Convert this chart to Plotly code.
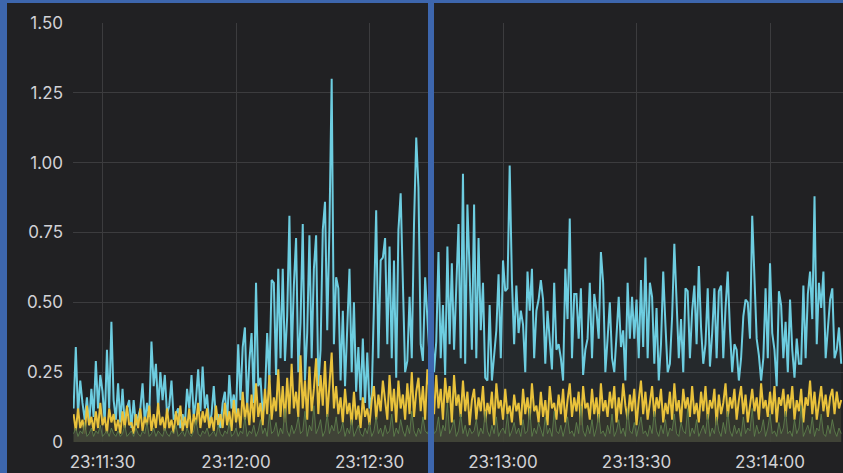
import pandas as pd
import plotly.graph_objects as go

# ---- data (sampled every 0.5 s starting 23:11:23.5) ----
start_time = "2024-01-01 23:11:23.5"
step = "500ms"

series_cyan = [
    0.12, 0.34, 0.1, 0.22, 0.14, 0.08, 0.16, 0.06, 0.19, 0.09, 0.29, 0.12, 0.24, 0.18, 0.07, 0.33, 0.12, 0.43, 0.15, 0.08,
    0.21, 0.07, 0.19, 0.06, 0.12, 0.15, 0.05, 0.15, 0.06, 0.09, 0.12, 0.21, 0.07, 0.14, 0.09, 0.36, 0.2, 0.28, 0.12, 0.25,
    0.15, 0.24, 0.1, 0.13, 0.22, 0.08, 0.1, 0.12, 0.05, 0.1, 0.06, 0.19, 0.12, 0.24, 0.09, 0.15, 0.26, 0.11, 0.27, 0.12,
    0.17, 0.06, 0.1, 0.2, 0.08, 0.1, 0.05, 0.14, 0.18, 0.07, 0.24, 0.12, 0.17, 0.1, 0.35, 0.15, 0.34, 0.41, 0.12, 0.29,
    0.39, 0.14, 0.57, 0.2, 0.23, 0.1, 0.16, 0.39, 0.22, 0.58, 0.57, 0.24, 0.62, 0.3, 0.62, 0.29, 0.45, 0.81, 0.3, 0.56,
    0.73, 0.25, 0.43, 0.78, 0.22, 0.39, 0.74, 0.3, 0.62, 0.74, 0.2, 0.33, 0.76, 0.86, 0.4, 0.77, 1.3, 0.35, 0.59, 0.55,
    0.22, 0.47, 0.2, 0.43, 0.62, 0.25, 0.5, 0.18, 0.34, 0.15, 0.37, 0.14, 0.32, 0.12, 0.17, 0.49, 0.83, 0.3, 0.65, 0.66,
    0.73, 0.35, 0.7, 0.3, 0.65, 0.23, 0.76, 0.89, 0.54, 0.25, 0.29, 0.52, 0.3, 0.78, 1.09, 0.91, 0.35, 0.29, 0.59, 0.44,
    0.3, 0.45, 0.25, 0.36, 0.68, 0.3, 0.49, 0.24, 0.7, 0.35, 0.64, 0.33, 0.59, 0.78, 0.3, 0.96, 0.28, 0.85, 0.61, 0.33,
    0.85, 0.3, 0.73, 0.4, 0.57, 0.23, 0.22, 0.49, 0.22, 0.3, 0.4, 0.6, 0.3, 0.65, 0.54, 0.55, 0.99, 0.58, 0.35, 0.56,
    0.39, 0.47, 0.42, 0.25, 0.61, 0.47, 0.62, 0.3, 0.47, 0.51, 0.58, 0.51, 0.28, 0.47, 0.37, 0.26, 0.57, 0.33, 0.35, 0.3,
    0.22, 0.62, 0.44, 0.8, 0.3, 0.53, 0.53, 0.37, 0.55, 0.24, 0.33, 0.37, 0.57, 0.3, 0.53, 0.47, 0.37, 0.68, 0.57, 0.25,
    0.37, 0.5, 0.3, 0.25, 0.38, 0.52, 0.34, 0.4, 0.22, 0.57, 0.37, 0.52, 0.37, 0.51, 0.3, 0.58, 0.34, 0.66, 0.3, 0.57,
    0.52, 0.28, 0.48, 0.22, 0.35, 0.61, 0.42, 0.25, 0.28, 0.45, 0.71, 0.51, 0.3, 0.44, 0.25, 0.55, 0.54, 0.3, 0.47, 0.56,
    0.35, 0.63, 0.41, 0.28, 0.35, 0.55, 0.27, 0.39, 0.55, 0.3, 0.54, 0.56, 0.3, 0.48, 0.61, 0.4, 0.25, 0.35, 0.33, 0.22,
    0.3, 0.45, 0.51, 0.5, 0.37, 0.81, 0.56, 0.37, 0.31, 0.22, 0.3, 0.55, 0.3, 0.64, 0.39, 0.33, 0.2, 0.54, 0.49, 0.3,
    0.43, 0.25, 0.51, 0.33, 0.23, 0.37, 0.28, 0.28, 0.56, 0.3, 0.53, 0.61, 0.44, 0.88, 0.35, 0.57, 0.48, 0.61, 0.3, 0.41,
    0.51, 0.55, 0.3, 0.33, 0.41, 0.28,
]

series_yellow = [
    0.1, 0.04, 0.12, 0.05, 0.08, 0.03, 0.13, 0.06, 0.09, 0.04, 0.11, 0.05, 0.14, 0.06, 0.09, 0.03, 0.12, 0.07, 0.1, 0.04,
    0.08, 0.03, 0.11, 0.05, 0.13, 0.06, 0.07, 0.03, 0.1, 0.05, 0.12, 0.04, 0.09, 0.06, 0.13, 0.04, 0.1, 0.05, 0.14, 0.06,
    0.09, 0.04, 0.12, 0.05, 0.08, 0.03, 0.11, 0.06, 0.13, 0.04, 0.09, 0.05, 0.12, 0.03, 0.1, 0.06, 0.14, 0.05, 0.11, 0.07,
    0.12, 0.05, 0.09, 0.04, 0.13, 0.06, 0.1, 0.05, 0.14, 0.06, 0.11, 0.04, 0.15, 0.07, 0.12, 0.05, 0.18, 0.08, 0.14, 0.06,
    0.17, 0.07, 0.21, 0.09, 0.14, 0.06, 0.19, 0.1, 0.24, 0.08, 0.16, 0.11, 0.26, 0.09, 0.2, 0.07, 0.23, 0.1, 0.28, 0.12,
    0.18, 0.09, 0.31, 0.12, 0.22, 0.08, 0.27, 0.11, 0.19, 0.3, 0.1, 0.24, 0.13, 0.29, 0.09, 0.21, 0.32, 0.12, 0.2, 0.1,
    0.16, 0.07, 0.19, 0.1, 0.14, 0.06, 0.18, 0.08, 0.13, 0.05, 0.16, 0.09, 0.12, 0.06, 0.15, 0.2, 0.08, 0.17, 0.11, 0.22,
    0.14, 0.08, 0.24, 0.11, 0.19, 0.07, 0.22, 0.12, 0.17, 0.08, 0.21, 0.1, 0.25, 0.09, 0.18, 0.23, 0.11, 0.2, 0.08, 0.26,
    0.18, 0.22, 0.1, 0.24, 0.12, 0.19, 0.08, 0.23, 0.14, 0.2, 0.07, 0.24, 0.13, 0.17, 0.09, 0.22, 0.11, 0.18, 0.06, 0.15,
    0.19, 0.08, 0.16, 0.11, 0.2, 0.07, 0.14, 0.1, 0.18, 0.06, 0.21, 0.12, 0.15, 0.08, 0.19, 0.1, 0.13, 0.07, 0.17, 0.11,
    0.14, 0.06, 0.19, 0.1, 0.16, 0.08, 0.21, 0.11, 0.13, 0.07, 0.18, 0.09, 0.15, 0.06, 0.2, 0.12, 0.14, 0.08, 0.17, 0.1,
    0.19, 0.07, 0.15, 0.21, 0.09, 0.16, 0.11, 0.18, 0.06, 0.2, 0.12, 0.14, 0.08, 0.19, 0.1, 0.16, 0.07, 0.21, 0.11, 0.15,
    0.09, 0.18, 0.12, 0.2, 0.07, 0.16, 0.1, 0.21, 0.13, 0.08, 0.17, 0.11, 0.19, 0.06, 0.15, 0.22, 0.1, 0.18, 0.08, 0.14,
    0.2, 0.09, 0.16, 0.12, 0.19, 0.07, 0.14, 0.1, 0.18, 0.08, 0.21, 0.11, 0.15, 0.07, 0.19, 0.12, 0.16, 0.09, 0.2, 0.1,
    0.14, 0.07, 0.18, 0.11, 0.2, 0.08, 0.15, 0.12, 0.19, 0.06, 0.17, 0.1, 0.14, 0.21, 0.09, 0.16, 0.12, 0.19, 0.08, 0.15,
    0.2, 0.1, 0.17, 0.07, 0.14, 0.19, 0.11, 0.16, 0.08, 0.21, 0.12, 0.15, 0.09, 0.18, 0.1, 0.2, 0.07, 0.16, 0.13, 0.19,
    0.09, 0.17, 0.12, 0.2, 0.08, 0.15, 0.11, 0.19, 0.07, 0.16, 0.13, 0.22, 0.1, 0.18, 0.08, 0.15, 0.2, 0.11, 0.17, 0.09,
    0.16, 0.19, 0.1, 0.18, 0.12, 0.15,
]

series_green = [
    0.03, 0.05, 0.02, 0.04, 0.03, 0.07, 0.02, 0.03, 0.05, 0.02, 0.04, 0.03, 0.06, 0.02, 0.03, 0.04, 0.02, 0.05, 0.03, 0.02,
    0.04, 0.02, 0.03, 0.06, 0.02, 0.03, 0.04, 0.02, 0.05, 0.03, 0.02, 0.04, 0.03, 0.07, 0.02, 0.03, 0.05, 0.02, 0.04, 0.03,
    0.02, 0.05, 0.03, 0.02, 0.04, 0.03, 0.06, 0.02, 0.03, 0.04, 0.02, 0.05, 0.03, 0.02, 0.04, 0.08, 0.03, 0.02, 0.04, 0.03,
    0.05, 0.02, 0.03, 0.04, 0.02, 0.06, 0.03, 0.02, 0.04, 0.03, 0.07, 0.02, 0.03, 0.05, 0.02, 0.04, 0.03, 0.09, 0.02, 0.04,
    0.03, 0.06, 0.02, 0.04, 0.08, 0.03, 0.05, 0.02, 0.1, 0.03, 0.04, 0.07, 0.02, 0.05, 0.03, 0.12, 0.04, 0.02, 0.06, 0.03,
    0.05, 0.09, 0.03, 0.04, 0.11, 0.02, 0.06, 0.04, 0.13, 0.03, 0.05, 0.08, 0.02, 0.04, 0.1, 0.03, 0.06, 0.04, 0.09, 0.03,
    0.04, 0.07, 0.02, 0.05, 0.03, 0.08, 0.02, 0.04, 0.06, 0.03, 0.02, 0.05, 0.03, 0.07, 0.02, 0.04, 0.09, 0.03, 0.05, 0.02,
    0.06, 0.03, 0.04, 0.1, 0.02, 0.05, 0.03, 0.08, 0.04, 0.02, 0.06, 0.03, 0.11, 0.04, 0.02, 0.05, 0.03, 0.09, 0.04, 0.03,
    0.05, 0.12, 0.03, 0.04, 0.09, 0.02, 0.06, 0.04, 0.14, 0.03, 0.05, 0.08, 0.02, 0.04, 0.1, 0.03, 0.06, 0.02, 0.05, 0.03,
    0.04, 0.08, 0.02, 0.05, 0.03, 0.11, 0.04, 0.02, 0.06, 0.03, 0.09, 0.02, 0.04, 0.05, 0.03, 0.1, 0.02, 0.04, 0.07, 0.03,
    0.05, 0.02, 0.08, 0.03, 0.04, 0.12, 0.02, 0.05, 0.03, 0.07, 0.04, 0.02, 0.09, 0.03, 0.05, 0.02, 0.11, 0.04, 0.03, 0.06,
    0.02, 0.05, 0.09, 0.03, 0.04, 0.02, 0.07, 0.03, 0.13, 0.04, 0.02, 0.06, 0.03, 0.08, 0.02, 0.05, 0.1, 0.03, 0.04, 0.02,
    0.06, 0.03, 0.1, 0.02, 0.04, 0.08, 0.03, 0.05, 0.02, 0.12, 0.04, 0.03, 0.07, 0.02, 0.05, 0.09, 0.03, 0.04, 0.02, 0.06,
    0.03, 0.11, 0.04, 0.02, 0.06, 0.03, 0.08, 0.02, 0.05, 0.04, 0.1, 0.03, 0.02, 0.07, 0.04, 0.03, 0.12, 0.02, 0.05, 0.03,
    0.08, 0.02, 0.04, 0.06, 0.03, 0.1, 0.02, 0.05, 0.03, 0.09, 0.04, 0.02, 0.07, 0.03, 0.11, 0.04, 0.02, 0.06, 0.03, 0.05,
    0.02, 0.09, 0.03, 0.05, 0.04, 0.12, 0.02, 0.06, 0.03, 0.04, 0.08, 0.02, 0.05, 0.1, 0.03, 0.04, 0.02, 0.07, 0.03, 0.05,
    0.11, 0.03, 0.04, 0.02, 0.08, 0.03, 0.05, 0.13, 0.02, 0.04, 0.06, 0.03, 0.09, 0.02, 0.05, 0.04, 0.1, 0.03, 0.02, 0.06,
    0.03, 0.08, 0.04, 0.02, 0.05, 0.03,
]

x_tick_values = ["2024-01-01 23:11:30", "2024-01-01 23:12:00", "2024-01-01 23:12:30",
                 "2024-01-01 23:13:00", "2024-01-01 23:13:30", "2024-01-01 23:14:00"]
x_tick_labels = ["23:11:30", "23:12:00", "23:12:30", "23:13:00", "23:13:30", "23:14:00"]
y_tick_values = [0, 0.25, 0.5, 0.75, 1.0, 1.25, 1.5]
y_tick_labels = ["0", "0.25", "0.50", "0.75", "1.00", "1.25", "1.50"]
x_range = ["2024-01-01 23:11:23.37", "2024-01-01 23:14:16.4"]

times = pd.date_range(start=start_time, periods=len(series_cyan), freq=step)

BG = "#212123"
GRID = "#3c3c3e"
TXT = "#d2d2d6"
BLUE = "#3d66ad"

fig = go.Figure()
fig.add_trace(go.Scatter(
    x=times, y=series_cyan, mode="lines",
    line=dict(color="#6dcde0", width=2),
    fill="tozeroy", fillcolor="rgba(110,205,224,0.05)",
    hoverinfo="skip", showlegend=False))
fig.add_trace(go.Scatter(
    x=times, y=series_yellow, mode="lines",
    line=dict(color="#e9c23b", width=2),
    fill="tozeroy", fillcolor="rgba(233,194,59,0.07)",
    hoverinfo="skip", showlegend=False))
fig.add_trace(go.Scatter(
    x=times, y=series_green, mode="lines",
    line=dict(color="#62874f", width=0.8),
    fill="tozeroy", fillcolor="rgba(66,70,57,0.88)",
    hoverinfo="skip", showlegend=False))

W, H = 843, 473
L, R, T, B = 73, 0, 23, 31
pw, ph = W - L - R, H - T - B

def px_x(p):
    return (p - L) / pw

def px_y(p):
    return 1 - (p - T) / ph

shapes = [
    dict(type="rect", xref="paper", yref="paper", x0=px_x(0), x1=px_x(W), y0=px_y(3), y1=px_y(0),
         fillcolor=BLUE, line=dict(width=0), layer="above"),
    dict(type="rect", xref="paper", yref="paper", x0=px_x(0), x1=px_x(7), y0=px_y(H), y1=px_y(0),
         fillcolor=BLUE, line=dict(width=0), layer="above"),
    dict(type="rect", xref="paper", yref="paper", x0=px_x(428), x1=px_x(434), y0=px_y(H), y1=px_y(0),
         fillcolor=BLUE, line=dict(width=0), layer="above"),
]

fig.update_layout(
    width=W, height=H,
    margin=dict(l=L, r=R, t=T, b=B, pad=0, autoexpand=False),
    paper_bgcolor=BG, plot_bgcolor=BG,
    font=dict(family="Inter, Roboto, sans-serif", size=17, color=TXT),
    shapes=shapes,
    showlegend=False,
)
fig.update_xaxes(
    type="date", range=x_range, automargin=False,
    tickvals=x_tick_values, ticktext=x_tick_labels,
    showgrid=True, gridcolor=GRID, gridwidth=1,
    zeroline=False, showline=False, ticks="",
    ticklabelstandoff=8,
    tickfont=dict(size=17, color=TXT),
)
fig.update_yaxes(
    range=[0, 1.5], automargin=False,
    tickvals=y_tick_values, ticktext=y_tick_labels,
    showgrid=True, gridcolor=GRID, gridwidth=1,
    zeroline=False, showline=False, ticks="",
    ticklabelstandoff=9,
    tickfont=dict(size=17, color=TXT),
)

fig.write_html(
    "out.html",
    config={"displayModeBar": False},
    post_script="document.body.style.margin='0px';document.body.style.background='" + BG + "';",
)
